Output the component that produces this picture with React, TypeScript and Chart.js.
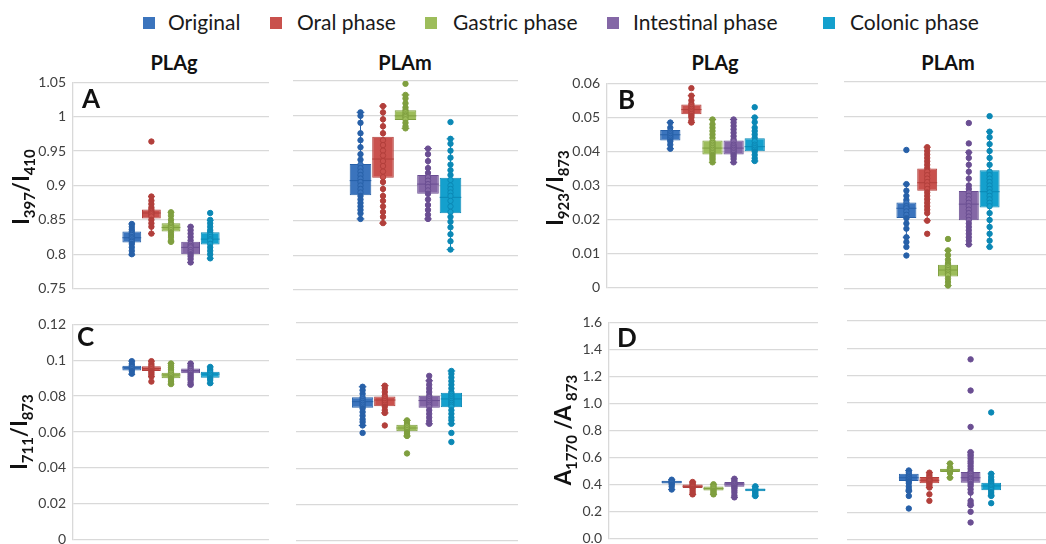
import React, { useEffect, useRef } from 'react';
import { Chart, registerables } from 'chart.js';

Chart.register(...registerables);
Chart.defaults.font.family = 'Lato';

// ---------- data ----------
const SERIES = ['Original', 'Oral phase', 'Gastric phase', 'Intestinal phase', 'Colonic phase'];
const GROUPS = ['PLAg', 'PLAm'];

// box stats: [lower whisker, Q1, median, Q3, upper whisker]
const A_PLAg_BOX = [
  [0.799, 0.817, 0.824, 0.833, 0.844],
  [0.83, 0.852, 0.86, 0.865, 0.884],
  [0.818, 0.833, 0.839, 0.845, 0.861],
  [0.788, 0.8, 0.81, 0.818, 0.84],
  [0.794, 0.814, 0.822, 0.832, 0.849],
];
const A_PLAg_PTS = [
  [0.844, 0.84, 0.836, 0.833, 0.83, 0.828, 0.825, 0.823, 0.82, 0.818, 0.815, 0.81, 0.805, 0.8],
  [0.964, 0.884, 0.878, 0.873, 0.868, 0.865, 0.862, 0.86, 0.858, 0.855, 0.85, 0.845, 0.84, 0.83],
  [0.861, 0.856, 0.85, 0.845, 0.842, 0.84, 0.838, 0.835, 0.832, 0.828, 0.825, 0.82, 0.818],
  [0.84, 0.835, 0.83, 0.825, 0.82, 0.815, 0.812, 0.81, 0.806, 0.803, 0.8, 0.797, 0.793, 0.788],
  [0.86, 0.85, 0.845, 0.84, 0.835, 0.832, 0.828, 0.825, 0.822, 0.82, 0.815, 0.81, 0.805, 0.8, 0.794],
];
const A_PLAm_BOX = [
  [0.852, 0.886, 0.907, 0.931, 1.005],
  [0.846, 0.911, 0.938, 0.97, 1.014],
  [0.982, 0.994, 1.0, 1.008, 1.03],
  [0.852, 0.888, 0.902, 0.915, 0.953],
  [0.808, 0.86, 0.883, 0.911, 0.967],
];
const A_PLAm_PTS = [
  [1.005, 1.0, 0.99, 0.975, 0.965, 0.955, 0.945, 0.937, 0.93, 0.925, 0.92, 0.915, 0.91, 0.905, 0.9, 0.895, 0.89, 0.885, 0.88, 0.875, 0.87, 0.865, 0.86, 0.852],
  [1.014, 1.005, 0.995, 0.985, 0.975, 0.965, 0.958, 0.95, 0.943, 0.935, 0.928, 0.92, 0.912, 0.905, 0.895, 0.885, 0.878, 0.87, 0.862, 0.855, 0.846],
  [1.046, 1.03, 1.025, 1.018, 1.012, 1.008, 1.005, 1.002, 1.0, 0.998, 0.995, 0.99, 0.985, 0.982],
  [0.953, 0.945, 0.935, 0.925, 0.918, 0.912, 0.907, 0.902, 0.898, 0.893, 0.888, 0.88, 0.872, 0.865, 0.858, 0.852],
  [0.991, 0.967, 0.96, 0.95, 0.94, 0.93, 0.922, 0.915, 0.908, 0.9, 0.895, 0.89, 0.885, 0.878, 0.87, 0.862, 0.855, 0.848, 0.84, 0.83, 0.82, 0.808],
];

const B_PLAg_BOX = [
  [0.0408, 0.0432, 0.0449, 0.0463, 0.0485],
  [0.0485, 0.0509, 0.0523, 0.0538, 0.0564],
  [0.0368, 0.0391, 0.041, 0.0432, 0.0494],
  [0.0368, 0.0391, 0.041, 0.0432, 0.0494],
  [0.0372, 0.0401, 0.0414, 0.0439, 0.05],
];
const B_PLAg_PTS = [
  [0.0485, 0.047, 0.046, 0.0455, 0.045, 0.0445, 0.044, 0.0435, 0.043, 0.042, 0.0408],
  [0.0586, 0.0564, 0.055, 0.054, 0.0535, 0.053, 0.0525, 0.052, 0.0515, 0.051, 0.0505, 0.05, 0.049, 0.0485],
  [0.0494, 0.048, 0.047, 0.046, 0.045, 0.044, 0.043, 0.0425, 0.042, 0.0415, 0.041, 0.0405, 0.04, 0.0395, 0.039, 0.0385, 0.038, 0.0375, 0.0368],
  [0.0494, 0.0485, 0.0475, 0.0465, 0.0455, 0.0445, 0.0435, 0.043, 0.042, 0.0415, 0.041, 0.0405, 0.04, 0.0395, 0.039, 0.0385, 0.0378, 0.0368],
  [0.053, 0.05, 0.0486, 0.047, 0.046, 0.045, 0.044, 0.043, 0.042, 0.0415, 0.041, 0.0405, 0.04, 0.039, 0.038, 0.0372],
];
const B_PLAm_BOX = [
  [0.015, 0.0206, 0.0234, 0.0251, 0.0304],
  [0.0198, 0.0285, 0.0308, 0.0349, 0.0411],
  [0.001, 0.0036, 0.0055, 0.007, 0.0112],
  [0.0129, 0.0199, 0.0246, 0.0284, 0.0396],
  [0.0122, 0.0236, 0.0282, 0.0344, 0.0456],
];
const B_PLAm_PTS = [
  [0.0403, 0.0304, 0.0285, 0.027, 0.0258, 0.025, 0.024, 0.0234, 0.0225, 0.0215, 0.0205, 0.019, 0.0175, 0.015, 0.0136, 0.0122, 0.0097],
  [0.0411, 0.04, 0.039, 0.038, 0.037, 0.036, 0.035, 0.034, 0.033, 0.032, 0.031, 0.03, 0.029, 0.028, 0.027, 0.026, 0.025, 0.024, 0.023, 0.022, 0.0198, 0.016],
  [0.0145, 0.0112, 0.0098, 0.0085, 0.0075, 0.007, 0.0065, 0.006, 0.0055, 0.005, 0.0045, 0.004, 0.003, 0.002, 0.001],
  [0.0481, 0.0422, 0.0396, 0.038, 0.036, 0.034, 0.032, 0.03, 0.029, 0.028, 0.027, 0.026, 0.025, 0.024, 0.023, 0.022, 0.021, 0.02, 0.019, 0.018, 0.017, 0.016, 0.015, 0.014, 0.0129],
  [0.0501, 0.0456, 0.044, 0.042, 0.04, 0.038, 0.036, 0.034, 0.033, 0.032, 0.031, 0.03, 0.029, 0.028, 0.027, 0.026, 0.025, 0.024, 0.022, 0.02, 0.018, 0.016, 0.014, 0.0122],
];

const C_PLAg_BOX = [
  [0.0921, 0.0943, 0.0958, 0.0969, 0.0995],
  [0.0909, 0.094, 0.0954, 0.0967, 0.0995],
  [0.0867, 0.09, 0.0918, 0.0931, 0.0982],
  [0.0863, 0.0927, 0.0942, 0.0954, 0.0982],
  [0.0872, 0.0903, 0.0923, 0.0936, 0.0963],
];
const C_PLAg_PTS = [
  [0.0995, 0.098, 0.097, 0.096, 0.095, 0.094, 0.0925],
  [0.0995, 0.098, 0.097, 0.096, 0.095, 0.094, 0.093, 0.092, 0.0909, 0.0881],
  [0.0982, 0.097, 0.096, 0.095, 0.094, 0.093, 0.092, 0.091, 0.09, 0.089, 0.088, 0.0867],
  [0.0982, 0.097, 0.096, 0.095, 0.094, 0.093, 0.092, 0.091, 0.09, 0.089, 0.0875, 0.0863],
  [0.0963, 0.095, 0.094, 0.093, 0.092, 0.091, 0.09, 0.089, 0.0872],
];
const C_PLAm_BOX = [
  [0.0636, 0.0733, 0.0767, 0.0791, 0.0849],
  [0.0705, 0.0742, 0.0776, 0.0795, 0.0855],
  [0.0578, 0.0604, 0.0622, 0.064, 0.0664],
  [0.0645, 0.0733, 0.0773, 0.08, 0.0882],
  [0.0645, 0.0736, 0.0782, 0.0816, 0.0936],
];
const C_PLAm_PTS = [
  [0.0849, 0.083, 0.081, 0.079, 0.078, 0.077, 0.076, 0.075, 0.074, 0.073, 0.071, 0.069, 0.067, 0.0655, 0.0636, 0.0595],
  [0.0855, 0.084, 0.082, 0.08, 0.079, 0.078, 0.077, 0.076, 0.075, 0.074, 0.072, 0.0705, 0.0636],
  [0.0664, 0.065, 0.064, 0.063, 0.062, 0.061, 0.06, 0.059, 0.0578, 0.0482],
  [0.0909, 0.0882, 0.086, 0.084, 0.082, 0.08, 0.079, 0.078, 0.077, 0.076, 0.075, 0.074, 0.072, 0.07, 0.068, 0.066, 0.0645],
  [0.0936, 0.092, 0.09, 0.088, 0.086, 0.084, 0.082, 0.081, 0.08, 0.079, 0.078, 0.077, 0.076, 0.075, 0.074, 0.072, 0.07, 0.068, 0.0665, 0.0645, 0.0595, 0.0545],
];

const D_PLAg_BOX = [
  [0.363, 0.407, 0.419, 0.428, 0.436],
  [0.327, 0.375, 0.387, 0.4, 0.419],
  [0.327, 0.356, 0.37, 0.385, 0.402],
  [0.305, 0.383, 0.404, 0.419, 0.443],
  [0.315, 0.351, 0.361, 0.37, 0.387],
];
const D_PLAg_PTS = [
  [0.436, 0.43, 0.425, 0.42, 0.415, 0.41, 0.4, 0.385, 0.363],
  [0.419, 0.41, 0.4, 0.39, 0.385, 0.38, 0.37, 0.355, 0.34, 0.327],
  [0.402, 0.39, 0.38, 0.372, 0.365, 0.355, 0.345, 0.335, 0.327],
  [0.443, 0.43, 0.42, 0.41, 0.405, 0.4, 0.39, 0.38, 0.37, 0.355, 0.34, 0.32, 0.305],
  [0.387, 0.375, 0.365, 0.36, 0.355, 0.345, 0.335, 0.325, 0.315],
];
const D_PLAm_BOX = [
  [0.358, 0.431, 0.455, 0.484, 0.508],
  [0.383, 0.414, 0.436, 0.46, 0.492],
  [0.455, 0.496, 0.511, 0.52, 0.559],
  [0.254, 0.419, 0.455, 0.496, 0.642],
  [0.322, 0.363, 0.395, 0.419, 0.484],
];
const D_PLAm_PTS = [
  [0.508, 0.495, 0.48, 0.47, 0.46, 0.455, 0.445, 0.44, 0.43, 0.415, 0.39, 0.37, 0.358, 0.322, 0.23],
  [0.492, 0.475, 0.46, 0.45, 0.44, 0.435, 0.43, 0.42, 0.41, 0.395, 0.383, 0.334, 0.286],
  [0.559, 0.53, 0.52, 0.515, 0.51, 0.505, 0.5, 0.49, 0.455],
  [1.32, 1.092, 0.826, 0.642, 0.625, 0.613, 0.595, 0.576, 0.56, 0.54, 0.52, 0.5, 0.485, 0.47, 0.455, 0.445, 0.435, 0.425, 0.41, 0.395, 0.37, 0.346, 0.286, 0.268, 0.254, 0.206, 0.128],
  [0.932, 0.484, 0.46, 0.44, 0.43, 0.42, 0.41, 0.4, 0.395, 0.385, 0.375, 0.365, 0.35, 0.335, 0.322, 0.269],
];

const A_YTICKS = ['0.75', '0.8', '0.85', '0.9', '0.95', '1', '1.05'];
const B_YTICKS = ['0', '0.01', '0.02', '0.03', '0.04', '0.05', '0.06'];
const C_YTICKS = ['0', '0.02', '0.04', '0.06', '0.08', '0.1', '0.12'];
const D_YTICKS = ['0.0', '0.2', '0.4', '0.6', '0.8', '1.0', '1.2', '1.4', '1.6'];

// ---------- styles ----------
const FILL = ['#3B74BD', '#C9514D', '#9DBD5B', '#8467A6', '#14A0CD'];
const LINE = ['#2760A8', '#B23F3B', '#7F9F3F', '#6A4E92', '#0B88B5'];
const SLOTS = [3, 4, 5, 6, 7];
const PAD = 14;

type Rect = { left: number; top: number; right: number; bottom: number };

const boxPlugin = {
  id: 'boxWhisker',
  afterDatasetDraw(chart: any, args: any) {
    const meta = args.meta;
    if (meta.type !== 'bar') return;
    const ds: any = chart.data.datasets[args.index];
    const ys = chart.scales.y;
    const ctx = chart.ctx;
    meta.data.forEach((el: any, i: number) => {
      const [lo, q1, med, q3, hi] = ds.stats[i];
      const { x, width } = el.getProps(['x', 'width'], true);
      const p = (v: number) => ys.getPixelForValue(v);
      const cw = width * 0.18;
      ctx.save();
      ctx.strokeStyle = ds.lineColors[i];
      ctx.lineWidth = 1;
      ctx.beginPath();
      ctx.moveTo(x, p(q3)); ctx.lineTo(x, p(hi));
      ctx.moveTo(x, p(q1)); ctx.lineTo(x, p(lo));
      ctx.moveTo(x - cw, p(hi)); ctx.lineTo(x + cw, p(hi));
      ctx.moveTo(x - cw, p(lo)); ctx.lineTo(x + cw, p(lo));
      ctx.stroke();
      ctx.beginPath();
      ctx.moveTo(x - width / 2, p(med)); ctx.lineTo(x + width / 2, p(med));
      ctx.stroke();
      ctx.restore();
    });
  },
};

function BoxChart({ rect, axisW, yTicks, boxes, points }: { rect: Rect; axisW: number; yTicks: string[]; boxes: number[][]; points: number[][] }) {
  const ref = useRef<HTMLCanvasElement>(null);
  const w = rect.right - rect.left + axisW;
  const h = rect.bottom - rect.top + 2 * PAD;
  useEffect(() => {
    const yVals = yTicks.map((t) => parseFloat(t));
    const datasets: any[] = [
      {
        type: 'bar',
        data: boxes.map((b, i) => ({ x: SLOTS[i], y: [b[1], b[3]] })),
        backgroundColor: FILL,
        borderColor: LINE,
        borderWidth: 1,
        borderSkipped: false,
        barPercentage: 0.96,
        categoryPercentage: 1,
        order: 2,
        stats: boxes,
        lineColors: LINE,
      },
      ...points.map((pts, i) => ({
        type: 'scatter',
        data: pts.map((v) => ({ x: SLOTS[i], y: v })),
        pointRadius: 2.7,
        pointBorderWidth: 1,
        pointBorderColor: LINE[i],
        pointBackgroundColor: (c: any) => {
          const v = c.raw && c.raw.y;
          return v > boxes[i][1] && v < boxes[i][3] ? FILL[i] : LINE[i];
        },
        order: 1,
      })),
    ];
    const chart = new Chart(ref.current as HTMLCanvasElement, {
      type: 'bar',
      data: { datasets },
      options: {
        responsive: false,
        animation: false,
        layout: { padding: { top: PAD, bottom: PAD, left: 0, right: 0 } },
        plugins: { legend: { display: false }, tooltip: { enabled: false } },
        scales: {
          x: {
            type: 'linear', min: 0, max: 10, display: false, offset: false,
            grid: { offset: false },
            ticks: { stepSize: 1 },
            afterBuildTicks: (s: any) => { s.ticks = [{ value: 0 }, { value: 10 }]; },
          },
          y: {
            type: 'linear',
            min: yVals[0],
            max: yVals[yVals.length - 1],
            afterFit: (s: any) => { s.width = axisW; },
            afterBuildTicks: (s: any) => { s.ticks = yVals.map((v) => ({ value: v })); },
            ticks: {
              display: axisW > 0,
              padding: 7,
              color: '#404040',
              font: { family: 'Lato', size: 14 },
              callback: (_v: any, i: number) => yTicks[i],
            },
            grid: { color: '#d9d9d9', lineWidth: 1.3, drawTicks: false },
            border: { display: axisW > 0, color: '#d9d9d9', width: 1.3 },
          },
        },
      } as any,
      plugins: [boxPlugin as any],
    });
    return () => chart.destroy();
  }, []);
  return (
    <div style={{ position: 'absolute', left: rect.left - axisW, top: rect.top - PAD, width: w, height: h }}>
      <canvas ref={ref} width={w} height={h} style={{ display: 'block' }} />
    </div>
  );
}

const abs = (s: React.CSSProperties): React.CSSProperties => ({ position: 'absolute', ...s });

export default function App() {
  const legendPos = [
    { sq: 143, tx: 168 },
    { sq: 270, tx: 297 },
    { sq: 425, tx: 453 },
    { sq: 607, tx: 633 },
    { sq: 823, tx: 850 },
  ];
  const titleStyle: React.CSSProperties = { font: 'bold 20px Lato', color: '#111', lineHeight: '20px', transform: 'translateX(-50%)', whiteSpace: 'nowrap' };
  const letterStyle: React.CSSProperties = { font: 'bold 26px Lato', color: '#111', lineHeight: '26px' };
  const yTitle: React.CSSProperties = { font: 'bold 22px Lato', color: '#111', whiteSpace: 'nowrap', transform: 'translate(-50%,-50%) rotate(-90deg)', lineHeight: '24px' };
  const sub: React.CSSProperties = { fontSize: 15 };
  return (
    <div style={{ position: 'absolute', left: 0, top: 0, width: 1046, height: 544, overflow: 'hidden', background: '#fff', fontFamily: 'Lato' }}>
      {SERIES.map((s, i) => (
        <React.Fragment key={s}>
          <div style={abs({ left: legendPos[i].sq, top: 17, width: 12, height: 12, background: FILL[i] })} />
          <div style={abs({ left: legendPos[i].tx, top: 10, font: '21px Lato', lineHeight: '24px', color: '#1a1a1a', whiteSpace: 'nowrap' })}>{s}</div>
        </React.Fragment>
      ))}

      <div style={abs({ left: 174, top: 52, ...titleStyle })}>{GROUPS[0]}</div>
      <div style={abs({ left: 405, top: 52, ...titleStyle })}>{GROUPS[1]}</div>
      <div style={abs({ left: 715, top: 52, ...titleStyle })}>{GROUPS[0]}</div>
      <div style={abs({ left: 948, top: 52, ...titleStyle })}>{GROUPS[1]}</div>

      <BoxChart rect={{ left: 73, top: 81, right: 274, bottom: 290 }} axisW={73} yTicks={A_YTICKS} boxes={A_PLAg_BOX} points={A_PLAg_PTS} />
      <BoxChart rect={{ left: 288, top: 81, right: 523, bottom: 290 }} axisW={0} yTicks={A_YTICKS} boxes={A_PLAm_BOX} points={A_PLAm_PTS} />
      <BoxChart rect={{ left: 607, top: 82, right: 823, bottom: 289 }} axisW={80} yTicks={B_YTICKS} boxes={B_PLAg_BOX} points={B_PLAg_PTS} />
      <BoxChart rect={{ left: 839, top: 82, right: 1057, bottom: 289 }} axisW={0} yTicks={B_YTICKS} boxes={B_PLAm_BOX} points={B_PLAm_PTS} />
      <BoxChart rect={{ left: 73, top: 323, right: 274, bottom: 541 }} axisW={73} yTicks={C_YTICKS} boxes={C_PLAg_BOX} points={C_PLAg_PTS} />
      <BoxChart rect={{ left: 291, top: 323, right: 523, bottom: 541 }} axisW={0} yTicks={C_YTICKS} boxes={C_PLAm_BOX} points={C_PLAm_PTS} />
      <BoxChart rect={{ left: 609, top: 321, right: 823, bottom: 540 }} axisW={80} yTicks={D_YTICKS} boxes={D_PLAg_BOX} points={D_PLAg_PTS} />
      <BoxChart rect={{ left: 842, top: 321, right: 1058, bottom: 540 }} axisW={0} yTicks={D_YTICKS} boxes={D_PLAm_BOX} points={D_PLAm_PTS} />

      <div style={abs({ left: 82, top: 85, ...letterStyle })}>A</div>
      <div style={abs({ left: 618, top: 86, ...letterStyle })}>B</div>
      <div style={abs({ left: 77, top: 323, ...letterStyle })}>C</div>
      <div style={abs({ left: 617, top: 324, ...letterStyle })}>D</div>

      <div style={abs({ left: 25, top: 187, ...yTitle })}>I<sub style={sub}>397</sub>/I<sub style={sub}>410</sub></div>
      <div style={abs({ left: 559, top: 188, ...yTitle })}>I<sub style={sub}>923</sub>/I<sub style={sub}>873</sub></div>
      <div style={abs({ left: 23, top: 432, ...yTitle })}>I<sub style={sub}>711</sub>/I<sub style={sub}>873</sub></div>
      <div style={abs({ left: 567, top: 430, ...yTitle })}>A<sub style={sub}>1770</sub> /A <sub style={sub}>873</sub></div>
    </div>
  );
}
